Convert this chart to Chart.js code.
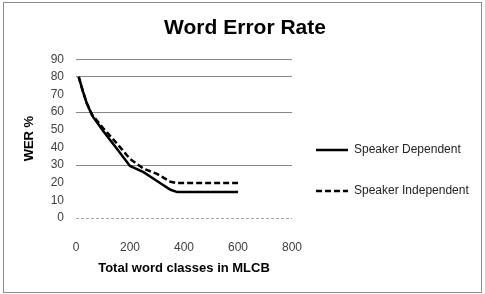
<!DOCTYPE html>
<html lang="en">
<head>
  <meta charset="UTF-8" />
  <title>Word Error Rate</title>
  <script src="https://cdn.jsdelivr.net/npm/chart.js"></script>
  <style>
    body { margin: 0; background: #fff; }
    #grafico { position: absolute; left: 0; top: 0; }
    .marco {
      position: absolute; left: 3px; top: 2px;
      width: 477px; height: 289px;
      border: 1px solid #8c8c8c;
      pointer-events: none;
    }
  </style>
</head>
<body>
  <canvas id="grafico" width="485" height="294"></canvas>
  <div class="marco"></div>
  <script>
    // values
    const wordClasses = [10, 25, 40, 60, 100, 150, 200, 250, 300, 350, 375, 400, 500, 600];
    const werDependent = [80, 72, 65, 58, 49.5, 39.5, 29.5, 26, 21, 16, 14.7, 14.7, 14.7, 14.7];
    const werIndependent = [80, 72, 65, 58.5, 51, 42.5, 33.5, 28, 25, 20.5, 19.8, 19.8, 19.8, 19.8];
    const seriesNames = ['Speaker Dependent', 'Speaker Independent'];
    const gridShown = [30, 60, 80, 90]; // the scan only keeps these gridlines

    const fuente = 'Liberation Sans, Arial, sans-serif';

    function puntos(xs, ys) {
      return xs.map((x, i) => ({ x, y: ys[i] }));
    }

    // the layout squeezes side legends to a quarter of the width,
    // so space is kept with right padding and the legend is moved into it;
    // the title goes back to the middle of the whole picture
    const moverLeyenda = {
      id: 'moverLeyenda',
      afterLayout(chart) {
        const lg = chart.legend;
        lg.left = chart.chartArea.right - 5;
        lg.right = lg.left + 190;
        lg.width = 190;
        lg.top += 8;
        lg.bottom += 8;
        const tb = chart.titleBlock;
        tb.left = 0;
        tb.right = 490;
        tb.width = 490;
      }
    };

    new Chart(document.getElementById('grafico'), {
      type: 'line',
      data: {
        datasets: [
          {
            label: seriesNames[0],
            data: puntos(wordClasses, werDependent),
            borderColor: '#000',
            backgroundColor: '#000',
            borderWidth: 2.5,
            pointRadius: 0,
            tension: 0,
            fill: false
          },
          {
            label: seriesNames[1],
            data: puntos(wordClasses, werIndependent),
            borderColor: '#000',
            backgroundColor: '#000',
            borderWidth: 2.5,
            borderDash: [6, 3],
            pointRadius: 0,
            tension: 0,
            fill: false
          }
        ]
      },
      options: {
        responsive: false,
        animation: false,
        devicePixelRatio: 1,
        layout: { padding: { left: 10, right: 99, top: 10, bottom: 8 } },
        plugins: {
          title: {
            display: true,
            text: 'Word Error Rate',
            color: '#000',
            font: { family: fuente, size: 21, weight: 'bold' },
            padding: { top: 6, bottom: 18 }
          },
          legend: {
            position: 'right',
            align: 'end',
            fullSize: false,
            labels: {
              usePointStyle: true,
              pointStyle: 'line',
              pointStyleWidth: 32,
              boxWidth: 32,
              padding: 29,
              color: '#222',
              font: { family: fuente, size: 12 },
              generateLabels(chart) {
                const base = Chart.defaults.plugins.legend.labels.generateLabels(chart);
                return base.map((item, i) => ({
                  ...item,
                  strokeStyle: '#000',
                  lineWidth: 2.5,
                  lineDash: chart.data.datasets[i].borderDash || []
                }));
              }
            }
          },
          tooltip: { enabled: false }
        },
        scales: {
          x: {
            type: 'linear',
            min: 0,
            max: 800,
            ticks: { stepSize: 200, padding: 14, color: '#404040', font: { family: fuente, size: 12 } },
            grid: { display: false },
            border: { display: false },
            title: {
              display: true,
              text: 'Total word classes in MLCB',
              color: '#000',
              font: { family: fuente, size: 13, weight: 'bold' },
              padding: { top: 4, bottom: 10 }
            },
            afterFit(scale) { scale.height = 68; }
          },
          y: {
            min: 0,
            max: 90,
            ticks: { stepSize: 10, padding: 12, color: '#404040', font: { family: fuente, size: 12 } },
            grid: {
              drawTicks: false,
              lineWidth: 1,
              color: ctx => {
                if (ctx.tick.value === 0) return '#a6a6a6';
                return gridShown.includes(ctx.tick.value) ? '#868686' : 'rgba(0,0,0,0)';
              }
            },
            border: {
              display: false,
              dash: ctx => (ctx.tick && ctx.tick.value === 0 ? [3, 2] : [])
            },
            title: {
              display: true,
              text: 'WER %',
              color: '#000',
              font: { family: fuente, size: 13, weight: 'bold' },
              padding: { top: 12, bottom: 0 }
            },
            afterFit(scale) { scale.width = 66; }
          }
        }
      },
      plugins: [moverLeyenda]
    });
  </script>
</body>
</html>
